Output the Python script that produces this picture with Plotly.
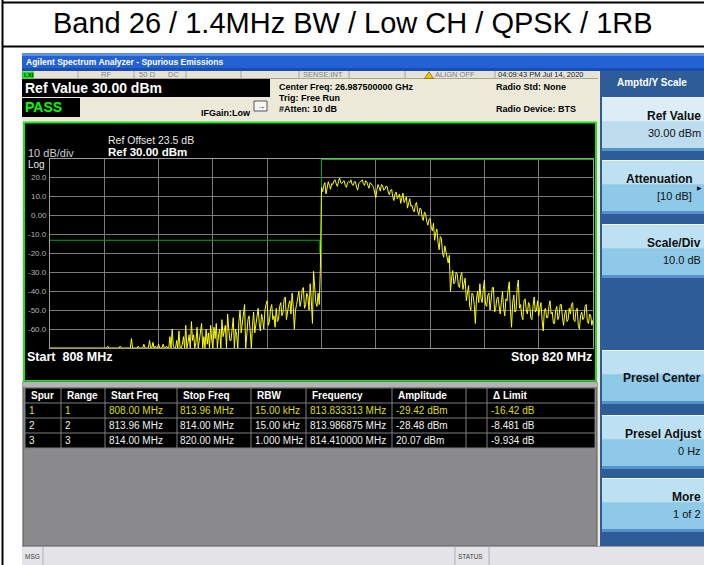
import numpy as np
import plotly.graph_objects as go

W, H = 704, 565
FONT = "Liberation Sans, Arial, sans-serif"

# ------------------------------------------------------------------ data
title_text = "Band 26 / 1.4MHz BW / Low CH / QPSK / 1RB"

freq_start_mhz = 808.0
freq_stop_mhz = 820.0
freq_div_mhz = 1.2
ref_level_dbm = 30.0
bottom_level_dbm = -70.0
db_per_div = 10.0
y_tick_values = [20, 10, 0, -10, -20, -30, -40, -50, -60]
y_tick_labels = ["20.0", "10.0", "0.00", "-10.0", "-20.0", "-30.0", "-40.0", "-50.0", "-60.0"]

# sweep segment for ranges 1-2 (RBW 15 kHz), 808.000 .. 813.975 MHz
seg1_start_mhz, seg1_stop_mhz = 808.000, 813.975
seg1_dbm = [
    -70, -70, -70, -70, -70, -70, -70, -70, -70, -70, -70, -70, -70, -70, -70, -70, -70, -70, -70, -70,
    -70, -70, -70, -70, -70, -70, -70, -70, -70, -70, -70, -70, -70, -70, -70, -70, -70, -70, -70, -70,
    -70, -70, -70, -70, -70, -70, -70, -70, -70, -70, -70, -69, -70, -70, -70, -70, -70, -70, -70, -70,
    -70, -70, -69, -70, -70, -70, -70, -70, -70, -70, -70, -70, -65, -70, -70, -70, -70, -70, -69, -70,
    -70, -70, -70, -68, -70, -70, -70, -70, -66, -70, -70, -67, -70, -69, -70, -70, -68, -70, -70, -70,
    -68, -70, -70, -69, -70, -70, -64, -70, -60, -69, -70, -70, -66, -70, -61, -70, -70, -68, -64, -70,
    -58, -70, -67, -63, -70, -56, -66, -63, -70, -67, -59, -70, -66, -61, -57, -70, -64, -70, -60, -68,
    -62, -70, -58, -66, -70, -59, -65, -57, -70, -63, -60, -70, -55, -64, -61, -58, -70, -52, -60, -66,
    -66, -58, -54, -70, -60, -63, -70, -56, -50, -62, -57, -52, -47, -70, -62, -55, -53, -60, -70, -58,
    -51, -62, -58, -54, -49, -57, -61, -52, -55, -60, -50, -47, -45, -58, -56, -49, -47, -55, -53, -59,
    -49, -56, -55, -48, -46, -53, -51, -44, -43, -55, -50, -47, -45, -52, -41, -48, -60, -50, -47, -42,
    -40, -48, -45, -39, -38, -49, -47, -41, -43, -50, -36, -45, -57, -29.42, -38, -46, -48, -41, -47, -28.48,
]
# sweep segment for range 3 (RBW 1 MHz), 814.000 .. 820.000 MHz
seg2_start_mhz, seg2_stop_mhz = 814.000, 820.000
seg2_dbm = [
    15, 12.7, 16, 17.5, 11.5, 15, 18, 16, 14, 17, 16.5, 18.5, 19, 17, 15.5, 18, 20.07, 17.5, 17, 18,
    18.5, 16, 15, 17.5, 18, 17.5, 19, 16.5, 16, 18, 18, 15, 13.5, 17, 17.5, 18.5, 19, 17, 16, 18.5,
    18, 16, 14.5, 17.5, 17, 16, 15, 12, 9.5, 14, 16.5, 15, 13, 16.5, 16, 13.5, 14, 15.5, 15.5, 12.5,
    11, 13.5, 14, 10, 8, 11.5, 12.5, 9, 10, 11.5, 6.5, 9.5, 12, 7, 8.5, 10, 4, 7.5, 9, 5,
    5.5, 3, 2, 6, 7, 2.5, 0.5, 4, 3.5, -1, -2.5, 2, 1, -3, -5, -2, -1.5, -6, -8, -4,
    -13, -9, -7, -14, -18, -11, -12, -20, -22, -16, -19, -23, -25, -21, -40, -33, -29, -36, -35, -30,
    -31, -37, -38, -32, -30, -39, -36, -33, -45, -40, -37, -48, -50, -41, -42, -47, -57, -44, -40, -46,
    -36, -44, -46, -39, -34, -47, -48, -42, -41, -50, -45, -38, -38, -51, -49, -44, -43, -47, -52, -46,
    -40, -49, -53, -44, -45, -39, -35, -50, -59, -46, -42, -51, -50, -38, -34, -49, -47, -53, -55, -45,
    -44, -50, -52, -46, -47, -54, -55, -48, -43, -51, -50, -45, -53, -49, -46, -55, -61, -50, -49, -54,
    -54, -48, -45, -52, -51, -57, -57, -50, -48, -55, -53, -47, -47, -54, -58, -52, -50, -56, -55, -49,
    -52, -47, -46, -55, -56, -50, -49, -58, -60, -53, -51, -55, -54, -48, -47, -56, -57, -52, -53, -58,
    -55,
]

limit_freq_mhz = [808.00, 813.96, 813.96, 814.00, 814.00]
limit_dbm = [-13.0, -13.0, -20.0, -20.0, 30.0]
limit_top_freq_mhz = [814.00, 820.00]
limit_top_dbm = [30.0, 30.0]

table_headers = ["Spur", "Range", "Start Freq", "Stop Freq", "RBW",
                 "Frequency", "Amplitude", "", "\u0394 Limit"]
spur_col = ["1", "2", "3"]
range_col = ["1", "2", "3"]
start_freq_col = ["808.00 MHz", "813.96 MHz", "814.00 MHz"]
stop_freq_col = ["813.96 MHz", "814.00 MHz", "820.00 MHz"]
rbw_col = ["15.00 kHz", "15.00 kHz", "1.000 MHz"]
peak_freq_col = ["813.833313 MHz", "813.986875 MHz", "814.410000 MHz"]
amplitude_col = ["-29.42 dBm", "-28.48 dBm", "20.07 dBm"]
blank_col = ["", "", ""]
delta_limit_col = ["-16.42 dB", "-8.481 dB", "-9.934 dB"]
row_colors = ["#dede00", "#f0f0f0", "#f0f0f0"]

softkeys = [
    ("Ref Value", "30.00 dBm"),
    ("Attenuation", "[10 dB]"),
    ("Scale/Div", "10.0 dB"),
    None,
    ("Presel Center", ""),
    ("Presel Adjust", "0 Hz"),
    ("More", "1 of 2"),
]

# ------------------------------------------------------------------ helpers
shapes, anns = [], []


def X(x):
    return x / W


def Y(y):
    return 1 - y / H


def rect(x0, y0, x1, y1, fill, lc=None, lw=0, layer="below"):
    shapes.append(dict(type="rect", xref="paper", yref="paper",
                       x0=X(x0), x1=X(x1), y0=Y(y0), y1=Y(y1),
                       fillcolor=fill, line=dict(width=lw, color=lc or fill),
                       layer=layer))


def hline(x0, x1, y, color, lw=1, layer="below"):
    shapes.append(dict(type="line", xref="paper", yref="paper",
                       x0=X(x0), x1=X(x1), y0=Y(y), y1=Y(y),
                       line=dict(width=lw, color=color), layer=layer))


def vline(x, y0, y1, color, lw=1, layer="below"):
    shapes.append(dict(type="line", xref="paper", yref="paper",
                       x0=X(x), x1=X(x), y0=Y(y0), y1=Y(y1),
                       line=dict(width=lw, color=color), layer=layer))


def txt(s, x, y, size, color="#000000", bold=False, anchor="left", family=FONT):
    anns.append(dict(text=f"<b>{s}</b>" if bold else s, x=X(x), y=Y(y),
                     xref="paper", yref="paper", xanchor=anchor, yanchor="middle",
                     showarrow=False, borderpad=0,
                     font=dict(size=size, color=color, family=family)))


# ------------------------------------------------------------------ page frame + title
hline(2, 704, 2.5, "#000000", 2)
vline(2.5, 0, 565, "#000000", 2)
hline(2, 704, 46.5, "#000000", 2)
txt(title_text, 353, 23, 29, "#000000", anchor="center")

# screenshot background
rect(22, 53, 704, 565, "#ece9d9")

# window title bar
rect(22, 53, 704, 71, "#2461d2")
rect(22, 53, 704, 56, "#5a8fe2")
rect(22, 68, 704, 71, "#1a4db4")
txt("Agilent Spectrum Analyzer - Spurious Emissions", 25, 62, 8.5, "#ffffff", bold=True)

# status row
rect(22, 71, 598, 79, "#e6e3d5")
hline(22, 598, 78.5, "#a8a59a")
for sx in [78, 134, 186, 241, 299, 349, 405, 495]:
    vline(sx, 71, 79, "#a8a59a")
rect(22, 71.5, 34, 78.5, "#22dd22")
txt("LXI", 23, 75, 6, "#0a3a0a", bold=True)
txt("RF", 100, 75, 7.5, "#808080")
txt("50 \u03a9", 138, 75, 7.5, "#808080")
txt("DC", 167, 75, 7.5, "#808080")
txt("SENSE:INT", 302, 75, 7.5, "#808080")
shapes.append(dict(type="path", xref="paper", yref="paper",
                   path=f"M {X(429)},{Y(71.8)} L {X(433.5)},{Y(78.5)} L {X(424.5)},{Y(78.5)} Z",
                   fillcolor="#f2c400", line=dict(width=0.6, color="#6a5000"), layer="below"))
txt("ALIGN OFF", 434, 75, 7.5, "#808080")
txt("04:09:43 PM Jul 14, 2020", 497, 75, 7.5, "#202020")

# measurement header
rect(22, 79, 270, 97, "#000000")
txt("Ref Value 30.00 dBm", 24, 88, 14, "#ffffff", bold=True)
rect(22, 98, 80, 117, "#000000")
txt("PASS", 24, 107.5, 14, "#00ff00", bold=True)
txt("IFGain:Low", 200, 113, 9, "#000000", bold=True)
rect(254, 101, 267, 111, "#f6f6f6", "#303030", 0.8)
txt("\u2192", 255.5, 107, 8, "#000000", bold=True)
txt("Center Freq: 26.987500000 GHz", 278, 87, 9, "#000000", bold=True)
txt("Trig: Free Run", 278, 98, 9, "#000000", bold=True)
txt("#Atten: 10 dB", 278, 109, 9, "#000000", bold=True)
txt("Radio Std: None", 495, 87, 9, "#000000", bold=True)
txt("Radio Device: BTS", 495, 109, 9, "#000000", bold=True)

# spectrum display frame
rect(24, 122.5, 596, 381, "#000000", "#1fe01f", 2)
txt("Ref Offset 23.5 dB", 107, 140, 10.5, "#e8e8e8")
txt("Ref 30.00 dBm", 107, 152, 11.5, "#ffffff", bold=True)
txt("10 dB/div", 27, 152.5, 11, "#cfcfcf")
txt("Log", 27, 164, 10, "#e6e6e6")
txt("Start  808 MHz", 26, 357, 12.5, "#ffffff", bold=True)
txt("Stop 820 MHz", 593, 357, 12.5, "#ffffff", bold=True, anchor="right")

# y tick labels (data-referenced)
for v, lab in zip(y_tick_values, y_tick_labels):
    anns.append(dict(text=lab, x=X(47.5), y=v, xref="paper", yref="y",
                     xanchor="right", yanchor="middle", showarrow=False, borderpad=0,
                     font=dict(size=8, color="#b4b4b4", family=FONT)))

# result table
rect(23, 382, 597, 546, "#8a898c", "#5a5a5a", 1)
rect(23, 382, 597, 387, "#b4b3b6")
col_edges = [25, 61, 105, 177, 251, 306, 392, 466, 487, 595]
row_edges = [388, 403, 418, 433, 448]
rect(col_edges[0], row_edges[0], col_edges[-1], row_edges[-1], "#000000")
for ry in row_edges:
    hline(col_edges[0], col_edges[-1], ry, "#7e7e7e")
for cx in col_edges:
    vline(cx, row_edges[0], row_edges[-1], "#7e7e7e")
hy = (row_edges[0] + row_edges[1]) / 2
for i, h in enumerate(table_headers):
    if h:
        txt(h, col_edges[i] + 5, hy, 10, "#ffffff", bold=True)
columns = [spur_col, range_col, start_freq_col, stop_freq_col, rbw_col,
           peak_freq_col, amplitude_col, blank_col, delta_limit_col]
for r in range(3):
    cy = (row_edges[r + 1] + row_edges[r + 2]) / 2
    for i, col in enumerate(columns):
        if col[r]:
            txt(col[r], col_edges[i] + 2.5, cy, 10, row_colors[r])

# softkey panel
rect(600, 71, 704, 546, "#2d5c97")
txt("Amptd/Y Scale", 652, 83, 10, "#ffffff", bold=True, anchor="center")
key_top = [97, 160, 224, 287, 350, 415, 478]
key_h = 54
for k, (yt, sk) in enumerate(zip(key_top, softkeys)):
    if sk is None:
        continue
    yb = yt + key_h
    light = k == 0
    base = "#bddcee" if light else "#8ecae8"
    top = "#dcedf7" if light else "#bde0f2"
    rect(602, yt, 704, yb, base)
    rect(602, yt, 704, yt + key_h * 0.45, top)
    hline(602, 704, yt + 0.5, "#f0f8fc")
    rect(602, yb - 3, 704, yb, "#5592c8")
    main, sub = sk
    rx = 694 if main == "Attenuation" else 701.5
    if sub:
        txt(main, rx, yt + 19, 12, "#101010", bold=True, anchor="right")
        txt(sub, 693 if main == "Attenuation" else 701.5, yt + 36, 11, "#101010", anchor="right")
    else:
        txt(main, rx, yt + 28, 12, "#101010", bold=True, anchor="right")
    if main == "Attenuation":
        txt("\u25b6", 695.5, yt + 28, 6, "#101010")

# message bar
rect(22, 546, 704, 565, "#e4e4e8")
hline(22, 704, 546.5, "#9c9c9c")
for sx in [43, 455, 489]:
    vline(sx, 547, 565, "#b0b0b0")
txt("MSG", 24, 556, 6.5, "#404040")
txt("STATUS", 457, 556, 6.5, "#404040")

# ------------------------------------------------------------------ traces
seg1_x = np.linspace(seg1_start_mhz, seg1_stop_mhz, len(seg1_dbm))
seg2_x = np.linspace(seg2_start_mhz, seg2_stop_mhz, len(seg2_dbm))
trace_x = np.concatenate([seg1_x, seg2_x])
trace_y = list(seg1_dbm) + list(seg2_dbm)

fig = go.Figure()
fig.add_trace(go.Scatter(x=limit_freq_mhz, y=limit_dbm, mode="lines",
                         line=dict(color="#00a800", width=1), hoverinfo="skip"))
fig.add_trace(go.Scatter(x=limit_top_freq_mhz, y=limit_top_dbm, mode="lines",
                         line=dict(color="#00b000", width=2), hoverinfo="skip"))
fig.add_trace(go.Scatter(x=trace_x, y=trace_y, mode="lines",
                         line=dict(color="#ffff00", width=1), hoverinfo="skip"))

axis_common = dict(showgrid=True, gridcolor="#7a7a7a", gridwidth=1, zeroline=False,
                   showticklabels=False, ticks="", showline=True, mirror=True,
                   linecolor="#9c9c9c", linewidth=1, fixedrange=True)
fig.update_layout(
    width=W, height=H, margin=dict(l=0, r=0, t=0, b=0),
    paper_bgcolor="#ffffff", plot_bgcolor="#000000", showlegend=False,
    xaxis=dict(domain=[X(50), X(593)], range=[freq_start_mhz, freq_stop_mhz],
               tick0=freq_start_mhz, dtick=freq_div_mhz, **axis_common),
    yaxis=dict(domain=[Y(348), Y(159)], range=[bottom_level_dbm, ref_level_dbm],
               tick0=0, dtick=db_per_div, **axis_common),
    shapes=shapes, annotations=anns,
)
fig.write_html(
    "out.html",
    config={"displayModeBar": False},
    post_script="document.body.style.margin='0';document.body.style.padding='0';"
                "document.body.style.overflow='hidden';",
)
